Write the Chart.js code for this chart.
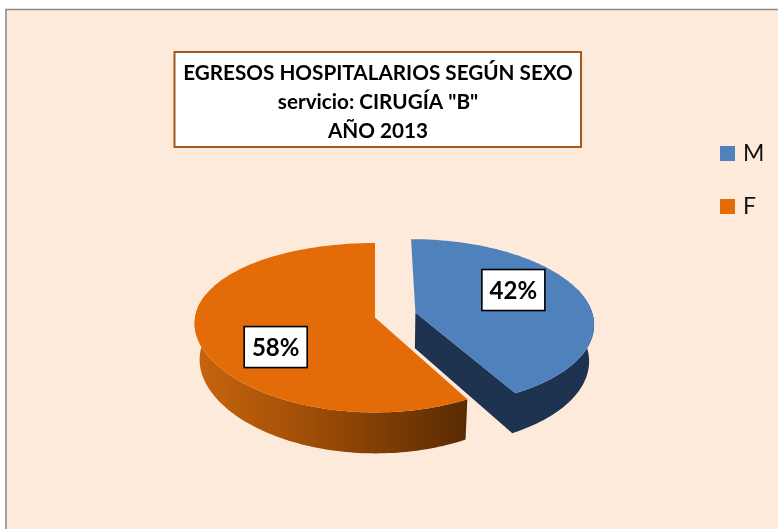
<!DOCTYPE html>
<html>
<head>
<meta charset="utf-8">
<style>html,body{margin:0;padding:0;background:#fff}canvas{display:block}</style>
<script src="https://cdn.jsdelivr.net/npm/chart.js@4/dist/chart.umd.js"></script>
</head>
<body>
<canvas id="c" width="778" height="529"></canvas>
<script>
const categories = ["M", "F"];
const percentValues = [42, 58];
const sliceColors = ["#4F81BD", "#E36C09"];
const explodeOffsets = [42, 0];
const titleLines = ['EGRESOS HOSPITALARIOS SEGÚN SEXO', 'servicio: CIRUGÍA "B"', 'AÑO 2013'];

const FLAT = 0.469, PERSP = 0.121, DEPTH = 36, VANISH_X = 395, SHRINK = 0.975;
const PERSP_X = [0.121, 0.07];
const SCALE_X = [1, 1.011];
const LABEL_FONT = 'bold 24px Lato';
const labelNudge = [[6, -11.5], [-2.5, 18]];

function projector(arc, index) {
  const p = arc.getProps(['x', 'y', 'startAngle', 'endAngle', 'outerRadius'], true);
  const R = p.outerRadius, off = arc.options.offset || 0;
  const mid = (p.startAngle + p.endAngle) / 2 + Math.PI / 2;
  const ou = off / R * Math.sin(mid), ov = -off / R * Math.cos(mid);
  const at = (angle, f, low) => {
    const t = angle + Math.PI / 2;
    const u = f * Math.sin(t) + ou, v = -f * Math.cos(t) + ov;
    const w = 1 - PERSP * v, wx = 1 - PERSP_X[index] * v;
    let x = p.x + SCALE_X[index] * R * u / wx, y = p.y + R * FLAT * v / w;
    if (low) { x = VANISH_X + (x - VANISH_X) * SHRINK; y += DEPTH / w; }
    return [x, y];
  };
  return { p, at, mid: mid - Math.PI / 2 };
}

function rimPoints(P, low, frontOnly) {
  const pts = [], n = 160;
  for (let i = 0; i <= n; i++) {
    const a = P.p.startAngle + (P.p.endAngle - P.p.startAngle) * i / n;
    if (frontOnly && Math.cos(a + Math.PI / 2) > 0.3) continue;
    pts.push(P.at(a, 1, low));
  }
  return pts;
}

function tracePoly(ctx, pts) {
  ctx.beginPath();
  pts.forEach((q, i) => i ? ctx.lineTo(q[0], q[1]) : ctx.moveTo(q[0], q[1]));
  ctx.closePath();
}

const pie3d = {
  id: 'pie3d',
  afterLayout(chart) {
    const t = chart.titleBlock;
    t.left = -22; t.right = 778;
    const l = chart.legend;
    l.left = 693.5; l.top = 112; l.right = l.left + l.width; l.bottom = l.top + l.height;
  },
  beforeDraw(chart) {
    const ctx = chart.ctx;
    ctx.save();
    ctx.fillStyle = '#FFFFFF';
    ctx.fillRect(0, 0, 778, 529);
    ctx.fillStyle = '#FDEADA';
    ctx.fillRect(6, 10, 772, 519);
    ctx.strokeStyle = '#8C8C8C';
    ctx.lineWidth = 1.6;
    ctx.beginPath();
    ctx.moveTo(6, 529); ctx.lineTo(6, 9.5); ctx.lineTo(778, 9.5);
    ctx.stroke();
    ctx.fillStyle = '#FFFFFF';
    ctx.fillRect(174.5, 52, 406.5, 95);
    ctx.strokeStyle = '#A5581B';
    ctx.lineWidth = 2;
    ctx.strokeRect(174.5, 52, 406.5, 95);
    ctx.restore();
  },
  beforeDatasetDraw(chart, args) {
    const ctx = chart.ctx, meta = args.meta;
    ctx.save();
    [1, 0].forEach(i => {
      const arc = meta.data[i], P = projector(arc, i);
      const apex = P.at(P.p.startAngle, 0, false), apexLow = P.at(P.p.startAngle, 0, true);
      const top = rimPoints(P, false, true), low = rimPoints(P, true, true);
      let wallPts, wallFill;
      if (i === 1) {
        const g = ctx.createLinearGradient(195, 0, 466, 0);
        g.addColorStop(0, '#C8650D');
        g.addColorStop(0.5, '#964A06');
        g.addColorStop(1, '#5A2B02');
        wallFill = g;
        wallPts = top.concat(low.slice().reverse());
      } else {
        wallFill = '#1E3350';
        wallPts = top.concat([apex, apexLow], low.slice().reverse());
      }
      tracePoly(ctx, wallPts);
      ctx.fillStyle = wallFill;
      ctx.fill();
      tracePoly(ctx, [apex].concat(rimPoints(P, false, false)));
      ctx.fillStyle = arc.options.backgroundColor;
      ctx.fill();
    });
    ctx.restore();
    return false;
  },
  afterDatasetsDraw(chart) {
    const ctx = chart.ctx, meta = chart.getDatasetMeta(0);
    const total = percentValues.reduce((a, b) => a + b, 0);
    ctx.save();
    ctx.font = LABEL_FONT;
    ctx.textAlign = 'center';
    ctx.textBaseline = 'middle';
    meta.data.forEach((arc, i) => {
      const P = projector(arc, i), q = P.at(P.mid, 0.55, false);
      const x = q[0] + labelNudge[i][0], y = q[1] + labelNudge[i][1];
      const w = 63, h = 41;
      ctx.fillStyle = '#FFFFFF';
      ctx.fillRect(x - w / 2, y - h / 2, w, h);
      ctx.strokeStyle = '#000000';
      ctx.lineWidth = 1.6;
      ctx.strokeRect(x - w / 2, y - h / 2, w, h);
      ctx.fillStyle = '#000000';
      ctx.fillText(Math.round(percentValues[i] / total * 100) + '%', x, y + 1);
    });
    ctx.restore();
  }
};

new Chart(document.getElementById('c'), {
  type: 'pie',
  data: {
    labels: categories,
    datasets: [{
      data: percentValues,
      backgroundColor: sliceColors,
      offset: explodeOffsets,
      borderWidth: 0,
      radius: 178
    }]
  },
  options: {
    responsive: false,
    animation: false,
    events: [],
    layout: { padding: { left: 0, right: 28, top: 0, bottom: 43 } },
    plugins: {
      tooltip: { enabled: false },
      title: {
        display: true,
        text: titleLines,
        color: '#000000',
        align: 'center',
        font: { family: 'Lato', weight: 'bold', size: 20.7, lineHeight: 1.4 },
        padding: { top: 58.5, bottom: 3.5 }
      },
      legend: {
        display: true,
        position: 'chartArea',
        align: 'start',
        labels: {
          boxWidth: 8,
          boxHeight: 8,
          padding: 30,
          color: '#111111',
          font: { family: 'Lato', size: 23 },
          generateLabels(chart) {
            return Chart.overrides.pie.plugins.legend.labels.generateLabels(chart).map(item => {
              item.strokeStyle = item.fillStyle;
              item.lineWidth = 7;
              item.lineJoin = 'miter';
              return item;
            });
          }
        }
      }
    }
  },
  plugins: [pie3d]
});
</script>
</body>
</html>
